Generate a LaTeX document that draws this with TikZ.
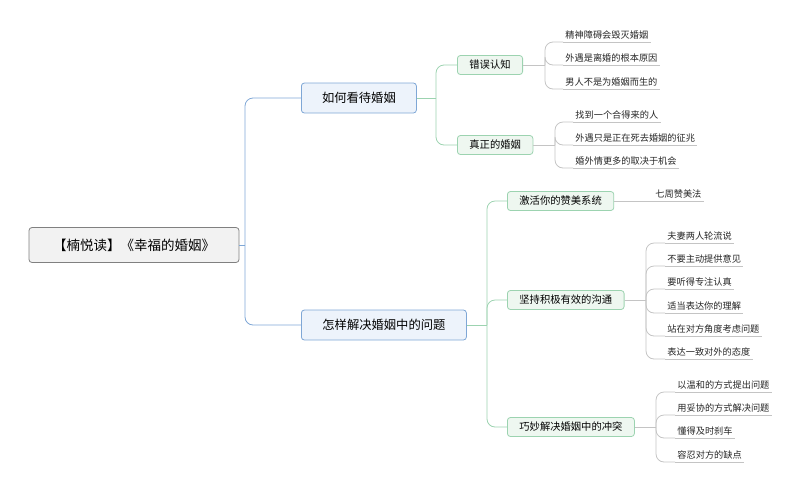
\documentclass[tikz,border=0pt]{standalone}
\usepackage{fontspec}
\setmainfont{Noto Sans CJK SC}
\usetikzlibrary{positioning}
\definecolor{rootline}{HTML}{808080}
\definecolor{bluel}{HTML}{7FA7D6}
\definecolor{bluef}{HTML}{EDF3FB}
\definecolor{greenl}{HTML}{9CD3B0}
\definecolor{greenf}{HTML}{EEF7F0}
\definecolor{leafl}{HTML}{C4C4C4}
\tikzset{
  every path/.style={line width=0.8pt},
  rootbox/.style={draw=rootline, fill=gray!10, rounded corners=3pt, minimum width=210pt, minimum height=35pt, font=\fontsize{13.5}{15}\selectfont},
  topicbox/.style={draw=bluel, fill=bluef, rounded corners=3pt, minimum height=30pt, inner xsep=10pt, font=\fontsize{12.3}{14}\selectfont, anchor=west},
  subbox/.style={draw=greenl, fill=greenf, rounded corners=3pt, minimum height=19pt, inner xsep=12pt, font=\fontsize{10.3}{12}\selectfont, anchor=west},
  leaf/.style={anchor=south west, inner xsep=2pt, inner ysep=2pt, text=black!85, font=\fontsize{9.2}{11}\selectfont},
}
\newcommand{\fork}[4]{% color, parent, x of fork, child
  \draw[#1] (#2.east) -- (#3,0 |- #2.east);
  \draw[#1, rounded corners=8pt] (#3,0 |- #2.east) |- (#4);}
\begin{document}
\begin{tikzpicture}[x=1pt, y=-1pt]
\useasboundingbox (0,0) rectangle (800,491);

\node[rootbox] (root) at (134,245) {【楠悦读】《幸福的婚姻》};
\node[topicbox, minimum width=115pt] (view) at (301,98) {如何看待婚姻};
\node[topicbox, minimum width=165pt] (solve) at (301,325) {怎样解决婚姻中的问题};

\node[subbox] (wrong) at (457,65) {错误认知};
\node[subbox] (real) at (457,145) {真正的婚姻};
\node[subbox] (praise) at (507,201) {激活你的赞美系统};
\node[subbox] (talk) at (507,300) {坚持积极有效的沟通};
\node[subbox] (fight) at (507,427) {巧妙解决婚姻中的冲突};

\fork{bluel}{root}{245}{view.west}
\fork{bluel}{root}{245}{solve.west}
\fork{greenl}{view}{436}{wrong.west}
\fork{greenl}{view}{436}{real.west}
\fork{greenl}{solve}{487}{praise.west}
\fork{greenl}{solve}{487}{talk.west}
\fork{greenl}{solve}{487}{fight.west}

% leaves
\foreach \n/\y/\t in {w1/42/精神障碍会毁灭婚姻, w2/65/外遇是离婚的根本原因, w3/89/男人不是为婚姻而生的}{
  \node[leaf] (\n) at (563,\y) {\t};
  \draw[leafl] (\n.south west) -- (\n.south east);
  \fork{leafl}{wrong}{545}{\n.south west}
}
\foreach \n/\y/\t in {r1/122/找到一个合得来的人, r2/145/外遇只是正在死去婚姻的征兆, r3/168/婚外情更多的取决于机会}{
  \node[leaf] (\n) at (573,\y) {\t};
  \draw[leafl] (\n.south west) -- (\n.south east);
  \fork{leafl}{real}{555}{\n.south west}
}
\node[leaf] (p1) at (640,201) {\hspace{13pt}七周赞美法};
\draw[leafl] (praise.east) -- (p1.south east);
\foreach \n/\y/\t in {t1/243/夫妻两人轮流说, t2/266/不要主动提供意见, t3/289/要听得专注认真, t4/313/适当表达你的理解, t5/336/站在对方角度考虑问题, t6/359/表达一致对外的态度}{
  \node[leaf] (\n) at (665,\y) {\t};
  \draw[leafl] (\n.south west) -- (\n.south east);
  \fork{leafl}{talk}{646}{\n.south west}
}
\foreach \n/\y/\t in {f1/392/以温和的方式提出问题, f2/415/用妥协的方式解决问题, f3/438/懂得及时刹车, f4/462/容忍对方的缺点}{
  \node[leaf] (\n) at (675,\y) {\t};
  \draw[leafl] (\n.south west) -- (\n.south east);
  \fork{leafl}{fight}{656}{\n.south west}
}
\end{tikzpicture}
\end{document}
